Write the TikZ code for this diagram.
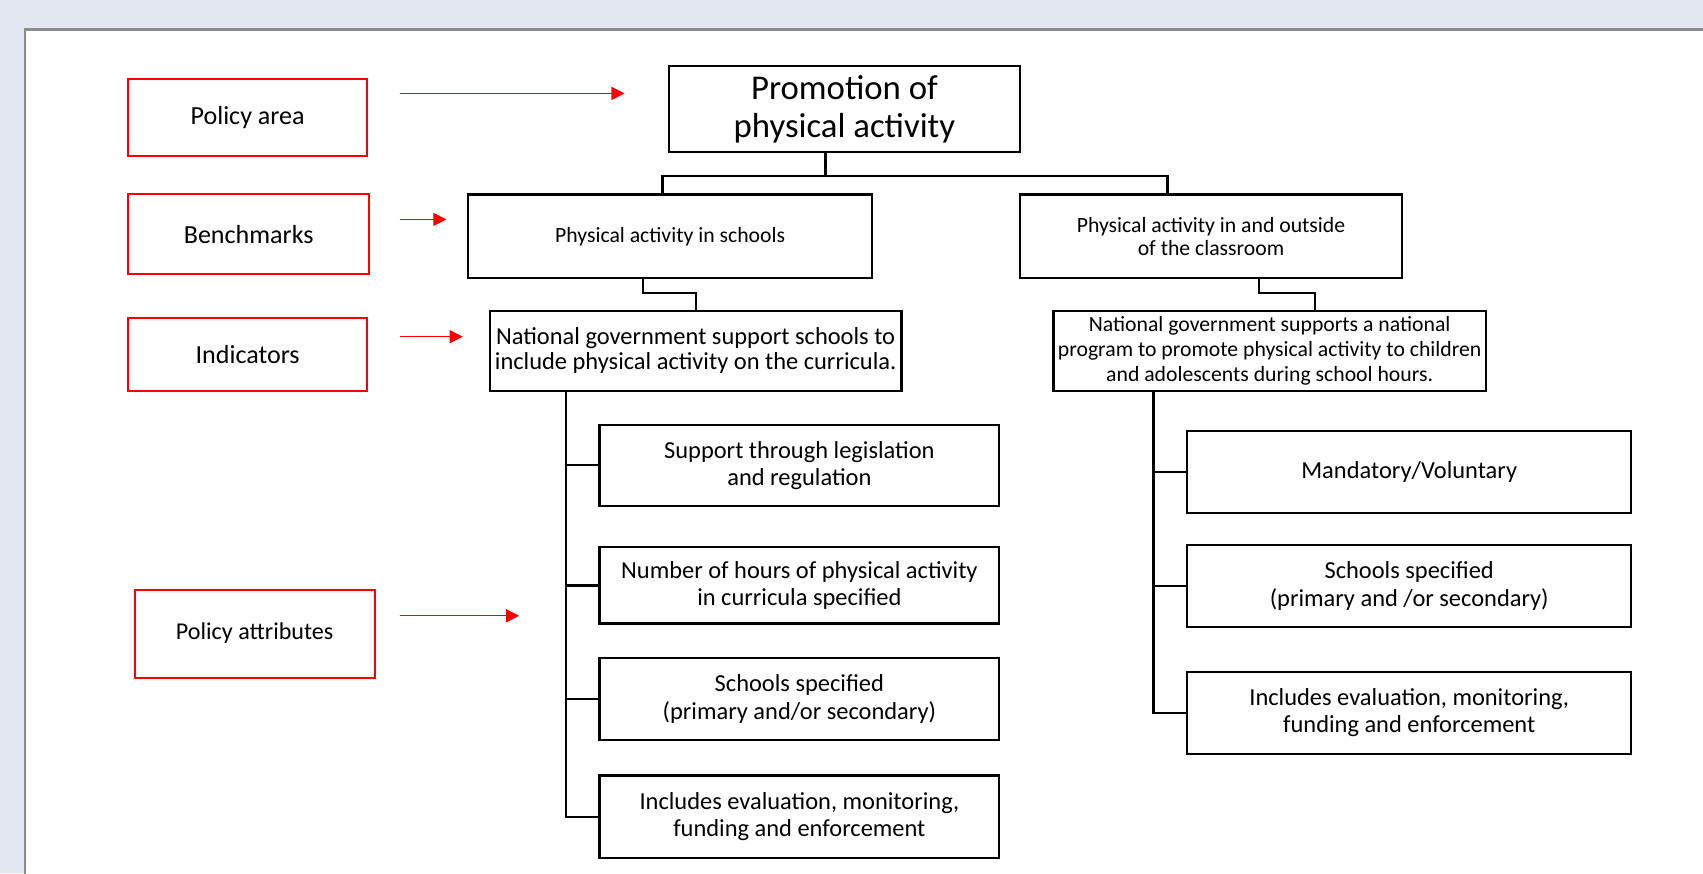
\documentclass[tikz,border=0pt]{standalone}
\usepackage{fontspec}
\setmainfont{Carlito}
\usetikzlibrary{arrows.meta}
\definecolor{bgblue}{HTML}{E2E7F1}
\definecolor{framegray}{HTML}{8C8C8C}
\definecolor{lblred}{HTML}{FF0000}
\begin{document}
\begin{tikzpicture}[x=1pt,y=-1pt,
  box/.style={draw=black, line width=2pt, align=center, inner sep=0pt, fill=white},
  lbl/.style={draw=lblred, line width=1.8pt, align=center, inner sep=0pt, font=\fontsize{24}{28}\selectfont},
  redarrow/.style={draw=lblred, line width=1.1pt, -{Triangle[length=12pt,width=12pt,fill=lblred]}},
  conn/.style={draw=black, line width=2pt},
  topfont/.style={font=\fontsize{32}{35}\selectfont},
  benchfont/.style={font=\fontsize{20}{21}\selectfont},
  attfont/.style={font=\fontsize{22.5}{25}\selectfont},
]
\useasboundingbox (0,0) rectangle (1568,804);
\fill[bgblue] (0,0) rectangle (1568,804);
\fill[white] (23,27) rectangle (1570,806);
\draw[framegray, line width=2.5pt] (23,808) -- (23,27) -- (1572,27);

% legend boxes
\node[lbl, minimum width=220pt, minimum height=71pt, text depth=4pt] (pol) at (228,108.5) {Policy area};
\node[lbl, minimum width=222pt, minimum height=73pt] (ben) at (229,215.5) {Benchmarks};
\node[lbl, minimum width=220pt, minimum height=67pt] (ind) at (228,326.5) {Indicators};
\node[lbl, minimum width=221pt, minimum height=81pt, text depth=4pt, font=\fontsize{22.2}{26}\selectfont] (att) at (234.5,583.5) {Policy attributes};

% red arrows
\coordinate (a1s) at (368,86);  \coordinate (a1e) at (575,86);
\coordinate (a2s) at (368,202); \coordinate (a2e) at (411,202);
\coordinate (a3s) at (368,310); \coordinate (a3e) at (426,310);
\coordinate (a4s) at (368,567); \coordinate (a4e) at (478,567);
\draw[redarrow] (a1s) -- (a1e);
\draw[redarrow] (a2s) -- (a2e);
\draw[redarrow] (a3s) -- (a3e);
\draw[redarrow] (a4s) -- (a4e);

% tree
\node[box, topfont, minimum width=323pt, minimum height=79pt] (top) at (777.5,100.5) {Promotion of\\physical activity};
\node[box, benchfont, minimum width=372pt, minimum height=77pt] (bL) at (617,217.5) {Physical activity in schools};
\node[box, benchfont, minimum width=352pt, minimum height=77pt] (bR) at (1115,217.5) {Physical activity in and outside\\of the classroom};
\node[box, font=\fontsize{22.5}{23}\selectfont, minimum width=379pt, minimum height=74pt] (iL) at (640.5,323) {National government support schools to\\include physical activity on the curricula.};
\node[box, font=\fontsize{20}{23}\selectfont, minimum width=398pt, minimum height=74pt] (iR) at (1169,323) {National government supports a national\\program to promote physical activity to children\\and adolescents during school hours.};

\node[box, attfont, minimum width=368pt, minimum height=75pt] (aL1) at (736,428.5) {Support through legislation\\and regulation};
\node[box, attfont, minimum width=368pt, minimum height=70pt] (aL2) at (736,539) {Number of hours of physical activity\\in curricula specified};
\node[box, attfont, minimum width=368pt, minimum height=75pt] (aL3) at (736,643.5) {Schools specified\\(primary and/or secondary)};
\node[box, attfont, minimum width=368pt, minimum height=76pt] (aL4) at (736,752) {Includes evaluation, monitoring,\\funding and enforcement};

\node[box, attfont, minimum width=409pt, minimum height=75pt] (aR1) at (1297.5,434.5) {Mandatory/Voluntary};
\node[box, attfont, minimum width=409pt, minimum height=75pt] (aR2) at (1297.5,539.5) {Schools specified\\(primary and /or secondary)};
\node[box, attfont, minimum width=409pt, minimum height=75pt] (aR3) at (1297.5,656.5) {Includes evaluation, monitoring,\\funding and enforcement};

% connectors
\draw[conn] ([xshift=-17.5pt]top.south) -- ++(0,21) coordinate (tj);
\draw[conn] ([xshift=-7pt]bL.north) |- (tj) -| ([xshift=-40pt]bR.north);
\draw[conn] ([xshift=-25pt]bL.south) -- ++(0,13) -| (iL.north);
\draw[conn] ([xshift=44pt]bR.south) -- ++(0,13) -| ([xshift=42pt]iR.north);

\draw[conn] ([xshift=-119.5pt]iL.south) coordinate (lt) |- (aL4.west);
\foreach \n in {aL1,aL2,aL3} \draw[conn] (\n.west) -- (\n.west -| lt);
\draw[conn] ([xshift=-107pt]iR.south) coordinate (rt) |- (aR3.west);
\foreach \n in {aR1,aR2} \draw[conn] (\n.west) -- (\n.west -| rt);
\end{tikzpicture}
\end{document}
